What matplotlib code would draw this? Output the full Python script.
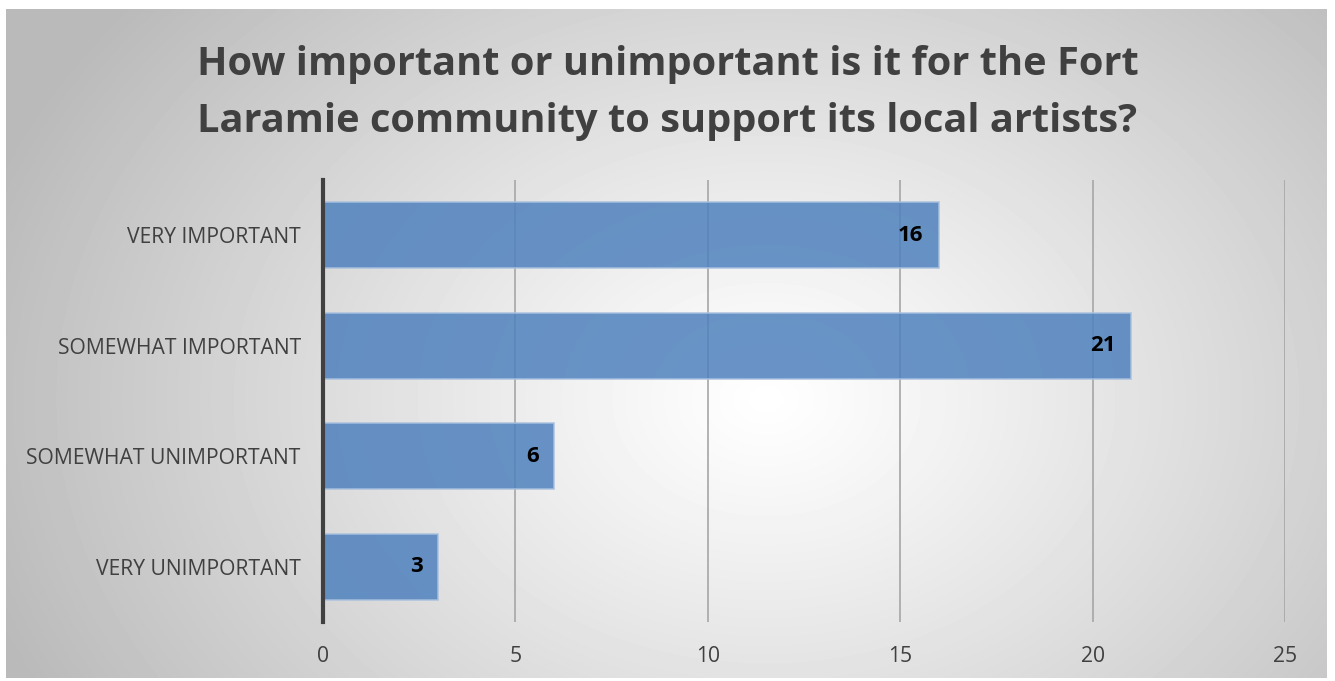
import numpy as np
import matplotlib
matplotlib.use("Agg")
import matplotlib.pyplot as plt

# Survey answers
categories = ["VERY IMPORTANT", "SOMEWHAT IMPORTANT", "SOMEWHAT UNIMPORTANT", "VERY UNIMPORTANT"]
counts = [16, 21, 6, 3]
x_ticks = [0, 5, 10, 15, 20, 25]
title = "How important or unimportant is it for the Fort\nLaramie community to support its local artists?"

W, H = 1335, 681
fig = plt.figure(figsize=(W / 100, H / 100), dpi=100)
fig.patch.set_facecolor("white")

# chart area with radial gray gradient
bx0, by0, bx1, by1 = 6, 9, 1327, 678
bg = fig.add_axes([bx0 / W, 1 - by1 / H, (bx1 - bx0) / W, (by1 - by0) / H])
yy, xx = np.mgrid[0:by1 - by0, 0:bx1 - bx0]
cx, cy = 760, 390
r = np.sqrt(((xx - cx) / 820.0) ** 2 + ((yy - cy) / 620.0) ** 2)
shade = 1.0 - 0.27 * np.clip(r, 0, 1) ** 1.1
bg.imshow(shade, cmap="gray", vmin=0, vmax=1, aspect="auto", interpolation="bilinear")
bg.set_axis_off()

# plot area
px0, px1, py0, py1 = 323, 1285, 180, 622
ax = fig.add_axes([px0 / W, 1 - py1 / H, (px1 - px0) / W, (py1 - py0) / H])
ax.patch.set_alpha(0)

y = np.arange(len(categories))
ax.barh(y, counts, height=0.6, color="#4f81bd", alpha=0.85,
        edgecolor="#a9c1e0", linewidth=1.2, zorder=3)
for yi, v in zip(y, counts):
    ax.annotate(str(v), (v, yi), xytext=(-11, 0), textcoords="offset points",
                ha="right", va="center", fontsize=16, fontweight="bold",
                color="black", family="Open Sans", zorder=4)

ax.set_xlim(0, 25)
ax.set_ylim(len(categories) - 0.5, -0.5)
ax.set_xticks(x_ticks)
ax.set_yticks(y)
ax.set_yticklabels(categories, family="Open Sans", fontsize=15.2, color="#404040")
ax.set_xticklabels([str(t) for t in x_ticks], family="Open Sans",
                   fontsize=15.2, color="#404040")
ax.grid(axis="x", color="#a6a6a6", linewidth=1.2, zorder=0)
ax.tick_params(axis="both", length=0)
ax.tick_params(axis="x", pad=17)
ax.tick_params(axis="y", pad=16)
for side in ["top", "right", "bottom"]:
    ax.spines[side].set_visible(False)
ax.spines["left"].set_color("#404040")
ax.spines["left"].set_linewidth(3)
ax.spines["left"].set_zorder(5)

fig.text(0.5, 1 - 93 / H, title, ha="center", va="center",
         fontsize=28.6, fontweight="bold", color="#404040",
         family="Open Sans", linespacing=1.58)

fig.savefig("out.png", dpi=100)
